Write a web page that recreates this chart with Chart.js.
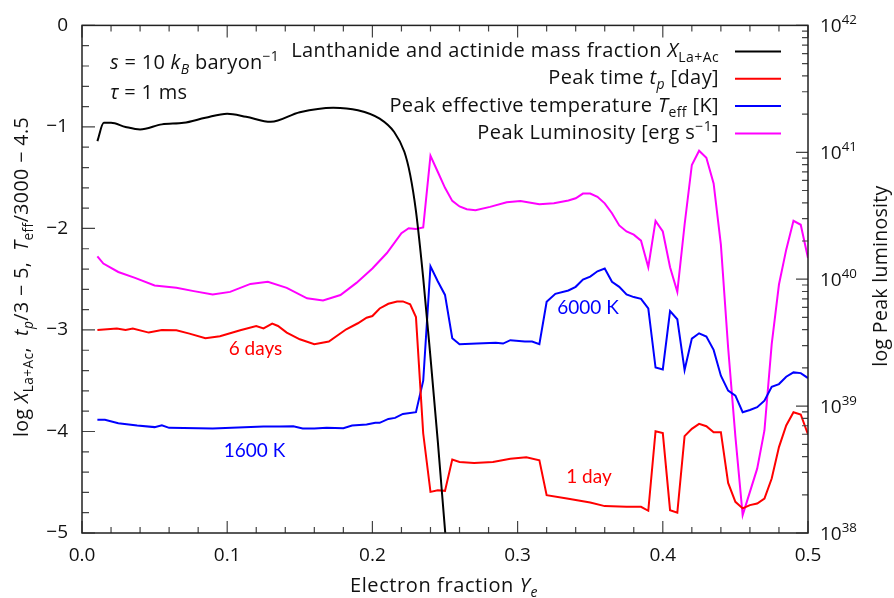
<!DOCTYPE html>
<html>
<head>
<meta charset="utf-8">
<script src="https://cdn.jsdelivr.net/npm/chart.js@4.4.1/dist/chart.umd.min.js"></script>
<style>
  html, body { margin: 0; padding: 0; background: #fff; }
  canvas { display: block; }
</style>
</head>
<body>
<canvas id="chart" width="894" height="598"></canvas>
<script>
// Lanthanide + actinide mass fraction (log X)
const laYe = [0.0106, 0.015, 0.02, 0.03, 0.04, 0.055, 0.07, 0.085, 0.1, 0.113, 0.13, 0.15, 0.173, 0.19, 0.205, 0.215, 0.222, 0.226, 0.23, 0.235, 0.24, 0.245, 0.25, 0.26];
const laLogX = [-1.14, -0.96, -0.96, -1.0, -1.025, -0.975, -0.96, -0.91, -0.87, -0.90, -0.95, -0.855, -0.81, -0.835, -0.918, -1.05, -1.245, -1.47, -1.83, -2.49, -3.27, -4.09, -4.97, -6.6];

// Peak time, plotted as t_p/3 - 5
const tpYe = [0.0106, 0.024, 0.03, 0.035, 0.046, 0.055, 0.065, 0.074, 0.085, 0.095, 0.109, 0.12, 0.125, 0.131, 0.135, 0.141, 0.15, 0.16, 0.17, 0.182, 0.19, 0.196, 0.2, 0.205, 0.211, 0.217, 0.221, 0.226, 0.23, 0.235, 0.24, 0.245, 0.25, 0.255, 0.26, 0.27, 0.283, 0.295, 0.306, 0.315, 0.32, 0.334, 0.35, 0.36, 0.375, 0.385, 0.39, 0.395, 0.4, 0.405, 0.41, 0.415, 0.42, 0.425, 0.43, 0.435, 0.44, 0.445, 0.45, 0.455, 0.46, 0.465, 0.47, 0.475, 0.48, 0.485, 0.49, 0.495, 0.5];
const tpVal = [-3.0, -2.985, -3.0, -2.987, -3.026, -3.0, -3.003, -3.036, -3.082, -3.062, -3.003, -2.961, -2.984, -2.938, -2.961, -3.026, -3.092, -3.14, -3.114, -2.993, -2.934, -2.879, -2.863, -2.788, -2.742, -2.719, -2.719, -2.748, -2.873, -4.02, -4.595, -4.578, -4.585, -4.277, -4.3, -4.31, -4.30, -4.268, -4.255, -4.284, -4.627, -4.66, -4.699, -4.735, -4.742, -4.742, -4.781, -3.997, -4.016, -4.775, -4.80, -4.046, -3.974, -3.925, -3.948, -4.007, -4.007, -4.507, -4.693, -4.758, -4.725, -4.709, -4.66, -4.464, -4.154, -3.941, -3.81, -3.833, -4.03];

// Peak effective temperature, plotted as T_eff/3000 - 4.5
const teffYe = [0.0106, 0.0158, 0.025, 0.038, 0.05, 0.055, 0.06, 0.09, 0.125, 0.136, 0.1455, 0.152, 0.16, 0.1685, 0.18, 0.186, 0.196, 0.202, 0.205, 0.211, 0.2156, 0.221, 0.23, 0.235, 0.24, 0.245, 0.25, 0.255, 0.26, 0.272, 0.285, 0.29, 0.295, 0.305, 0.31, 0.315, 0.32, 0.326, 0.335, 0.34, 0.345, 0.35, 0.355, 0.36, 0.365, 0.37, 0.375, 0.38, 0.385, 0.39, 0.395, 0.4, 0.405, 0.41, 0.415, 0.42, 0.425, 0.43, 0.435, 0.44, 0.445, 0.45, 0.455, 0.46, 0.465, 0.47, 0.475, 0.48, 0.485, 0.49, 0.495, 0.5];
const teffVal = [-3.885, -3.885, -3.918, -3.941, -3.957, -3.938, -3.964, -3.97, -3.95, -3.95, -3.948, -3.97, -3.97, -3.964, -3.967, -3.941, -3.931, -3.915, -3.915, -3.876, -3.866, -3.827, -3.81, -3.50, -2.373, -2.52, -2.655, -3.082, -3.14, -3.134, -3.127, -3.134, -3.101, -3.114, -3.114, -3.14, -2.722, -2.644, -2.611, -2.575, -2.503, -2.474, -2.422, -2.395, -2.526, -2.575, -2.65, -2.676, -2.693, -2.788, -3.37, -3.389, -2.814, -2.895, -3.395, -3.085, -3.033, -3.065, -3.196, -3.451, -3.598, -3.647, -3.81, -3.788, -3.761, -3.696, -3.559, -3.533, -3.461, -3.418, -3.425, -3.474];

// Peak luminosity, log10 L [erg/s] on the right axis
const lumYe = [0.0106, 0.0147, 0.025, 0.0365, 0.05, 0.065, 0.077, 0.09, 0.102, 0.116, 0.128, 0.141, 0.155, 0.166, 0.178, 0.189, 0.2, 0.21, 0.22, 0.225, 0.23, 0.235, 0.24, 0.245, 0.25, 0.255, 0.26, 0.265, 0.271, 0.281, 0.2925, 0.302, 0.315, 0.325, 0.335, 0.34, 0.345, 0.35, 0.355, 0.36, 0.365, 0.37, 0.375, 0.38, 0.385, 0.39, 0.395, 0.4, 0.405, 0.41, 0.415, 0.42, 0.425, 0.43, 0.435, 0.44, 0.445, 0.45, 0.455, 0.46, 0.465, 0.47, 0.475, 0.48, 0.485, 0.49, 0.495, 0.5];
const lumLog = [40.18, 40.123, 40.057, 40.01, 39.951, 39.932, 39.906, 39.88, 39.90, 39.963, 39.979, 39.932, 39.849, 39.833, 39.875, 39.971, 40.084, 40.206, 40.363, 40.402, 40.395, 40.408, 40.973, 40.847, 40.72, 40.617, 40.573, 40.551, 40.544, 40.57, 40.606, 40.617, 40.591, 40.598, 40.62, 40.638, 40.675, 40.675, 40.649, 40.598, 40.52, 40.424, 40.376, 40.351, 40.304, 40.094, 40.46, 40.376, 40.094, 39.90, 40.429, 40.90, 41.012, 40.957, 40.755, 40.272, 39.46, 38.76, 38.141, 38.324, 38.507, 38.808, 39.488, 39.958, 40.233, 40.46, 40.429, 40.167];

const xTicks = [0, 0.1, 0.2, 0.3, 0.4, 0.5];
const leftTicks = [0, -1, -2, -3, -4, -5];
const rightDecades = [38, 39, 40, 41, 42];

const FONT = '"Open Sans"';
const NOTE_FONT = 'Lato';
const pts = (xs, ys) => xs.map((x, i) => ({ x: x, y: ys[i] }));

// text with italics / subscripts / superscripts
function drawRich(ctx, parts, x, y, align, size, color, family, spacing) {
  const fam = family || FONT;
  ctx.letterSpacing = (spacing || 0) + 'px';
  const small = k => k === 'b' || k === 'bi' || k === 'p';
  const fontFor = k => ((k === 'i' || k === 'bi') ? 'italic ' : '') + (small(k) ? size * 0.7 : size) + 'px ' + fam;
  let w = 0;
  parts.forEach(([t, k]) => { ctx.font = fontFor(k); w += ctx.measureText(t).width; });
  let cx = align === 'right' ? x - w : align === 'center' ? x - w / 2 : x;
  ctx.fillStyle = color;
  ctx.textAlign = 'left';
  ctx.textBaseline = 'alphabetic';
  parts.forEach(([t, k]) => {
    ctx.font = fontFor(k);
    const dy = (k === 'b' || k === 'bi') ? size * 0.25 : k === 'p' ? -size * 0.42 : 0;
    ctx.fillText(t, cx, y + dy);
    cx += ctx.measureText(t).width;
  });
  ctx.letterSpacing = '0px';
}

const decorations = {
  id: 'decorations',
  afterDatasetsDraw(chart) {
    const ctx = chart.ctx;
    const a = chart.chartArea;
    const sx = chart.scales.x, sy = chart.scales.y, sr = chart.scales.y1;
    ctx.save();

    // tick marks, pointing inwards
    ctx.strokeStyle = '#444';
    ctx.lineWidth = 1.2;
    ctx.beginPath();
    for (let i = 0; i <= 25; i++) {
      const px = sx.getPixelForValue(i * 0.02);
      const len = i % 5 === 0 ? 12 : 6;
      ctx.moveTo(px, a.bottom); ctx.lineTo(px, a.bottom - len);
      ctx.moveTo(px, a.top); ctx.lineTo(px, a.top + len);
    }
    for (let i = 0; i <= 25; i++) {
      const py = sy.getPixelForValue(-i * 0.2);
      const len = i % 5 === 0 ? 13 : 7;
      ctx.moveTo(a.left, py); ctx.lineTo(a.left + len, py);
    }
    rightDecades.forEach(d => {
      const py = sr.getPixelForValue(d);
      ctx.moveTo(a.right, py); ctx.lineTo(a.right - 12, py);
      if (d < 42) {
        for (let k = 2; k <= 9; k++) {
          const pm = sr.getPixelForValue(d + Math.log10(k));
          ctx.moveTo(a.right, pm); ctx.lineTo(a.right - 6, pm);
        }
      }
    });
    ctx.stroke();

    // frame
    ctx.strokeStyle = '#222';
    ctx.lineWidth = 1.5;
    ctx.strokeRect(a.left, a.top, a.right - a.left, a.bottom - a.top);

    // right axis labels 10^n
    rightDecades.forEach(d => {
      drawRich(ctx, [['10', 'n'], [String(d), 'p']], a.right + 12, sr.getPixelForValue(d) + 7, 'left', 19, '#111');
    });

    // legend
    const legend = [
      { parts: [['Lanthanide and actinide mass fraction ', 'n'], ['X', 'i'], ['La+Ac', 'b']], color: '#000' },
      { parts: [['Peak time ', 'n'], ['t', 'i'], ['p', 'bi'], [' [day]', 'n']], color: '#ff0000' },
      { parts: [['Peak effective temperature ', 'n'], ['T', 'i'], ['eff', 'b'], [' [K]', 'n']], color: '#0000ff' },
      { parts: [['Peak Luminosity [erg s', 'n'], ['−1', 'p'], [']', 'n']], color: '#ff00ff' }
    ];
    legend.forEach((e, i) => {
      const yb = 57 + i * 27.3;
      drawRich(ctx, e.parts, 719, yb, 'right', 20, '#111', FONT, 0.4);
      ctx.strokeStyle = e.color;
      ctx.lineWidth = 2;
      ctx.beginPath();
      ctx.moveTo(735, yb - 5.5); ctx.lineTo(781, yb - 5.5);
      ctx.stroke();
    });

    // parameters
    drawRich(ctx, [['s', 'i'], [' = 10 ', 'n'], ['k', 'i'], ['B', 'bi'], [' baryon', 'n'], ['−1', 'p']], 110, 69, 'left', 20, '#111', FONT, 0.3);
    drawRich(ctx, [['τ', 'i'], [' = 1 ms', 'n']], 110, 99, 'left', 20, '#111', FONT, 0.3);

    // curve annotations
    drawRich(ctx, [['6 days', 'n']], 255.5, 355, 'center', 19, '#ff0000', NOTE_FONT);
    drawRich(ctx, [['1600 K', 'n']], 254.5, 457, 'center', 19, '#0000ff', NOTE_FONT);
    drawRich(ctx, [['6000 K', 'n']], 588, 314, 'center', 19, '#0000ff', NOTE_FONT);
    drawRich(ctx, [['1 day', 'n']], 589, 483, 'center', 19, '#ff0000', NOTE_FONT);

    // axis titles
    drawRich(ctx, [['Electron fraction ', 'n'], ['Y', 'i'], ['e', 'bi']], 444, 592, 'center', 20, '#111', FONT, 0.6);
    ctx.save();
    ctx.translate(28, 277);
    ctx.rotate(-Math.PI / 2);
    drawRich(ctx, [['log ', 'n'], ['X', 'i'], ['La+Ac', 'b'], [',  ', 'n'], ['t', 'i'], ['p', 'bi'], ['/3 − 5,  ', 'n'], ['T', 'i'], ['eff', 'b'], ['/3000 − 4.5', 'n']], 0, 0, 'center', 19.5, '#111', FONT, 0.45);
    ctx.restore();
    ctx.save();
    ctx.translate(887, 276);
    ctx.rotate(-Math.PI / 2);
    drawRich(ctx, [['log Peak luminosity', 'n']], 0, 0, 'center', 19.5, '#111', FONT, 0.3);
    ctx.restore();

    ctx.restore();
  }
};

const lineStyle = { borderWidth: 2, pointRadius: 0, fill: false, tension: 0 };

new Chart(document.getElementById('chart'), {
  type: 'line',
  data: {
    datasets: [
      { ...lineStyle, label: 'X_La+Ac', data: pts(laYe, laLogX), borderColor: '#000', cubicInterpolationMode: 'monotone', yAxisID: 'y' },
      { ...lineStyle, label: 't_p', data: pts(tpYe, tpVal), borderColor: '#ff0000', yAxisID: 'y' },
      { ...lineStyle, label: 'T_eff', data: pts(teffYe, teffVal), borderColor: '#0000ff', yAxisID: 'y' },
      { ...lineStyle, label: 'L_peak', data: pts(lumYe, lumLog), borderColor: '#ff00ff', yAxisID: 'y1' }
    ]
  },
  options: {
    responsive: false,
    animation: false,
    layout: { padding: { top: 23, left: 0, right: 0, bottom: 0 } },
    plugins: { legend: { display: false }, tooltip: { enabled: false } },
    scales: {
      x: {
        type: 'linear', min: 0, max: 0.5,
        afterBuildTicks: s => { s.ticks = xTicks.map(v => ({ value: v })); },
        ticks: { callback: v => v.toFixed(1), font: { family: 'Open Sans', size: 19 }, color: '#111', padding: 11, maxRotation: 0 },
        grid: { display: false, drawTicks: false },
        border: { display: false },
        afterFit: s => { s.height = 65; }
      },
      y: {
        position: 'left', min: -5, max: 0,
        afterBuildTicks: s => { s.ticks = leftTicks.map(v => ({ value: v })); },
        ticks: { callback: v => v === 0 ? '0' : '−' + Math.abs(v), font: { family: 'Open Sans', size: 19 }, color: '#111', padding: 14 },
        grid: { display: false, drawTicks: false },
        border: { display: false },
        afterFit: s => { s.width = 82; }
      },
      y1: {
        position: 'right', min: 38, max: 42,
        ticks: { display: false },
        grid: { display: false, drawTicks: false },
        border: { display: false },
        afterFit: s => { s.width = 86; }
      }
    }
  },
  plugins: [decorations]
});
</script>
</body>
</html>
